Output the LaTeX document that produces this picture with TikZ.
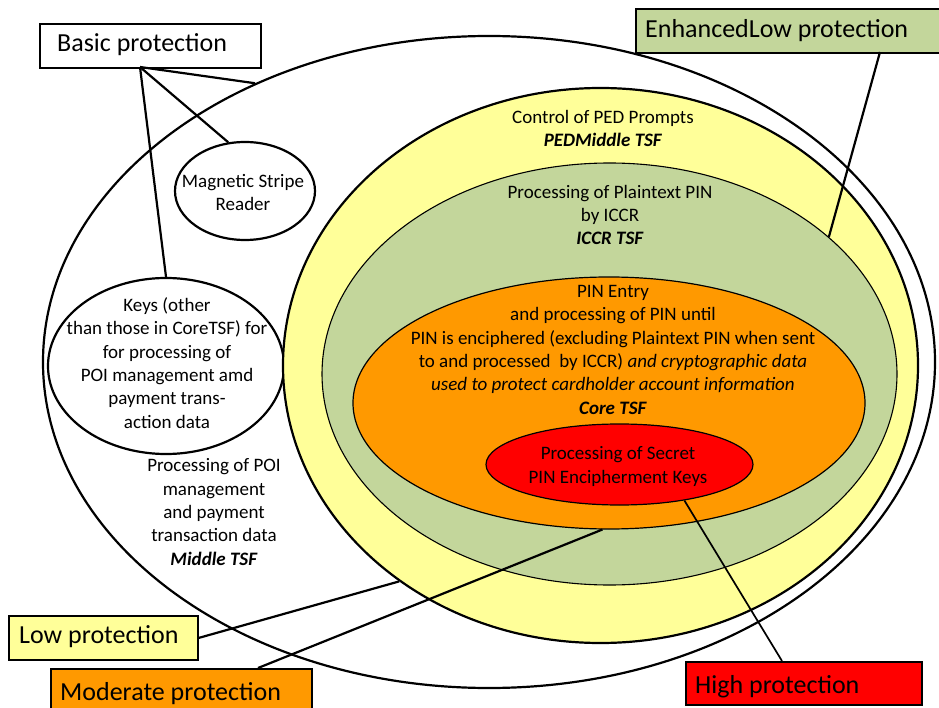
\documentclass[tikz,border=0pt]{standalone}
\usepackage{fontspec}
\setmainfont{Carlito}
\usetikzlibrary{shapes.geometric}
\definecolor{lowyellow}{HTML}{FFFF99}
\definecolor{enhgreen}{HTML}{C3D69B}
\definecolor{modorange}{HTML}{FF9900}
\definecolor{highred}{HTML}{FF0000}

\begin{document}
\begin{tikzpicture}[x=1pt,y=-1pt,
  zone/.style={ellipse, draw, inner sep=0pt},
  % multi-line blocks are placed by the baseline of their last line
  bodytext/.style={font=\fontsize{19}{23.3}\selectfont, align=center, anchor=base, inner sep=0pt},
  levelbox/.style={draw, line width=1.8pt, inner sep=0pt, anchor=north west},
  levellabel/.style={font=\fontsize{26}{30}\selectfont, anchor=base west, inner sep=0pt},
  leader/.style={line width=2.2pt}
]
\useasboundingbox (0,0) rectangle (939,708);
\clip (0,0) rectangle (939,708);
\fill[white] (0,0) rectangle (939,708);

% protection zones, outermost first
\node[zone, fill=white, line width=2.2pt, minimum width=892pt, minimum height=652pt] (outer) at (489,362) {};
\node[zone, fill=white, line width=2.2pt, minimum width=140pt, minimum height=98pt] (mag) at (245,191) {};
\node[zone, fill=white, line width=2.2pt, minimum width=236pt, minimum height=176pt] (keys) at (166,366) {};
\node[zone, fill=lowyellow, line width=2.2pt, minimum width=635pt, minimum height=555pt] (yellow) at (600.5,365.5) {};
\node[zone, fill=enhgreen, line width=1.1pt, minimum width=575pt, minimum height=422pt] (green) at (609.5,374) {};
\node[zone, fill=modorange, line width=1.2pt, minimum width=512pt, minimum height=252pt] (orange) at (609,403) {};
\node[zone, fill=highred, line width=1.2pt, minimum width=267pt, minimum height=81pt] (red) at (619.5,464.5) {};

% zone descriptions
\node[bodytext] (pedtext) at (603,147) {Control of PED Prompts\\\textbf{\textit{PEDMiddle TSF}}};
\node[bodytext] (iccrtext) at (610,245) {Processing of Plaintext PIN\\by ICCR\\\textbf{\textit{ICCR TSF}}};
\node[bodytext] (coretext) at (613,414) {PIN Entry\\and processing of PIN until\\PIN is enciphered (excluding Plaintext PIN when sent\\to and processed\ \ by ICCR) \textit{and cryptographic data}\\\textit{used to protect cardholder account information}\\\textbf{\textit{Core TSF}}};
\node[bodytext] (secrettext) at (618,483) {Processing of Secret\\PIN Encipherment Keys};
\node[bodytext] (midtext) at (214,565) {Processing of POI\\management\\and payment\\transaction data\\\textbf{\textit{Middle TSF}}};
\node[bodytext] (keystext) at (167,428) {Keys (other\\than those in CoreTSF) for\\for processing of\\POI management amd\\payment trans-\\action data};
\node[bodytext] (magtext) at (243,211) {Magnetic Stripe\\Reader};

% protection level labels
\node[levelbox, fill=white, minimum width=221pt, minimum height=44pt] (basic) at (39,23) {};
\node[levellabel] (basiclabel) at (57,52) {Basic protection};
\node[levelbox, fill=enhgreen, minimum width=320pt, minimum height=44pt] (enh) at (635,8) {};
\node[levellabel] (enhlabel) at (645,38) {EnhancedLow protection};
\node[levelbox, fill=lowyellow, minimum width=189pt, minimum height=44pt] (low) at (8,615) {};
\node[levellabel] (lowlabel) at (19,643) {Low protection};
\node[levelbox, fill=modorange, minimum width=261pt, minimum height=60pt] (mod) at (50,668) {};
\node[levellabel] (modlabel) at (60,700) {Moderate protection};
\node[levelbox, fill=highred, minimum width=236pt, minimum height=43pt] (high) at (685,661) {};
\node[levellabel] (highlabel) at (695,693) {High protection};

% leader lines from labels to zones
\coordinate (basictip) at (140,67);
\draw[leader] (basictip) -- (outer.130.6);
\draw[leader] (basictip) -- (mag.109.5);
\draw[leader] (basictip) -- (keys.north);
\coordinate (enhtip) at (880,52);
\draw[leader] (enhtip) -- (green.32.1);
\draw[leader] (low.east) -- (yellow.227.2);
\coordinate (modtip) at (258,668);
\draw[leader] (modtip) -- (orange.267.3);
\coordinate (hightip) at (782,661);
\draw[leader, line width=1.7pt] (hightip) -- (red.-29.2);
\end{tikzpicture}
\end{document}
